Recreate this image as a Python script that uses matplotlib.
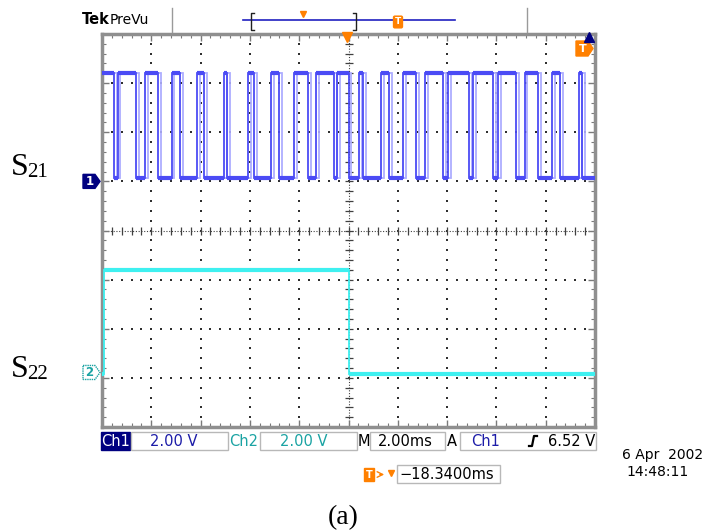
import matplotlib
matplotlib.use("Agg")
import matplotlib.pyplot as plt
from matplotlib.patches import Polygon, Rectangle
from matplotlib.transforms import blended_transform_factory

# ---------------- data ----------------
time_per_div_ms = 2.0
volts_per_div = 2.0
n_xdiv = 10
n_ydiv = 8

# Ch1: alternating edges (ms), trace starts high
ch1_edges_ms = [0.47, 0.63, 1.38, 1.74, 2.27, 2.82, 3.18, 3.87, 4.14, 4.95,
                5.07, 5.92, 6.15, 6.86, 7.20, 7.79, 8.34, 8.68, 9.41, 9.53,
                10.00, 10.41, 10.57, 11.30, 11.66, 12.21, 12.74, 13.10, 13.83, 14.04,
                14.87, 15.05, 15.86, 16.05, 16.80, 17.14, 17.69, 18.26, 18.60, 19.35,
                19.49]
ch1_start_high = True
ch1_high_v = 4.42
ch1_low_v = 0.14
ch1_offset_div = 1.0

# Ch2: one rise, one fall
ch2_edges_ms = [0.10, 10.00]
ch2_start_high = False
ch2_high_v = 4.18
ch2_low_v = -0.06
ch2_offset_div = -2.89

status_ch1_scale = "2.00 V"
status_ch2_scale = "2.00 V"
status_time_scale = "2.00ms"
status_trig_src = "Ch1"
status_trig_level = "6.52 V"
status_delay = "\u221218.3400ms"
status_date = "6 Apr  2002"
status_time = "14:48:11"
label_s21 = ("S", "21")
label_s22 = ("S", "22")
caption = "(a)"

# ---------------- helpers ----------------
def step_trace(edges, start_high, hi, lo, t_end):
    state = start_high
    t = [0.0]
    v = [hi if state else lo]
    segs = []
    seg_start = 0.0
    for e in edges:
        segs.append((seg_start, e, hi if state else lo))
        t += [e, e]
        v += [hi if state else lo, lo if state else hi]
        state = not state
        seg_start = e
    segs.append((seg_start, t_end, hi if state else lo))
    t.append(t_end)
    v.append(hi if state else lo)
    return t, v, segs

t_end = n_xdiv * time_per_div_ms

W, H = 709, 530
fig = plt.figure(figsize=(W / 100, H / 100), dpi=100)
fig.patch.set_facecolor("white")

L, R, T, B = 102, 595, 34, 427
ax = fig.add_axes([L / W, 1 - B / H, (R - L) / W, (B - T) / H])
ax.set_xlim(0, t_end)
ax.set_ylim(-n_ydiv / 2, n_ydiv / 2)
ax.set_facecolor("white")

# graticule border + ticks
for s in ax.spines.values():
    s.set_color("#8f8f8f")
    s.set_linewidth(2.5)
ax.set_xticks([i * time_per_div_ms for i in range(n_xdiv + 1)])
ax.set_yticks(list(range(-n_ydiv // 2, n_ydiv // 2 + 1)))
ax.set_xticks([i * time_per_div_ms / 5 for i in range(n_xdiv * 5 + 1)], minor=True)
ax.set_yticks([i / 5 - n_ydiv / 2 for i in range(n_ydiv * 5 + 1)], minor=True)
ax.tick_params(which="both", direction="in", top=True, right=True,
               labelbottom=False, labelleft=False, color="#7a7a7a")
ax.tick_params(which="major", length=5, width=1)
ax.tick_params(which="minor", length=3, width=0.8)

# grid dots
gx, gy = [], []
for i in range(1, n_xdiv):
    if i == n_xdiv // 2:
        continue
    for k in range(1, n_ydiv * 5):
        gx.append(i * time_per_div_ms)
        gy.append(k / 5 - n_ydiv / 2)
for j in range(1, n_ydiv):
    yv = j - n_ydiv / 2
    if yv == 0:
        continue
    for k in range(1, n_xdiv * 5):
        gx.append(k * time_per_div_ms / 5)
        gy.append(yv)
ax.scatter(gx, gy, s=1.3, marker="s", color="#303030", linewidths=0, zorder=1)

# center lines with ticks
cx = t_end / 2
ax.plot([cx, cx], [-n_ydiv / 2, n_ydiv / 2], color="#404040", lw=0.8,
        ls=(0, (1, 1.5)), zorder=1)
ax.plot([0, t_end], [0, 0], color="#404040", lw=0.8, ls=(0, (1, 1.5)), zorder=1)
ax.plot([cx] * (n_ydiv * 5 - 1), [k / 5 - n_ydiv / 2 for k in range(1, n_ydiv * 5)],
        ls="none", marker="_", ms=6, mew=0.9, color="#404040", zorder=1)
ax.plot([k * time_per_div_ms / 5 for k in range(1, n_xdiv * 5)], [0] * (n_xdiv * 5 - 1),
        ls="none", marker="|", ms=6, mew=0.9, color="#404040", zorder=1)

# traces
def draw_channel(edges, start_high, hi, lo, offset, color, shadow=None, shift=0.0):
    t, v, segs = step_trace(edges, start_high, hi, lo, t_end)
    y = [vv / volts_per_div + offset for vv in v]
    if shadow is not None:
        ax.plot([tt + shift for tt in t], y, color=shadow, lw=1.3, zorder=2,
                solid_joinstyle="miter")
    ax.plot(t, y, color=color, lw=1.3, zorder=3, solid_joinstyle="miter")
    for a, b, lev in segs:
        ax.plot([a, b], [lev / volts_per_div + offset] * 2, color=color, lw=3.0,
                zorder=3, solid_capstyle="butt")

draw_channel(ch1_edges_ms, ch1_start_high, ch1_high_v, ch1_low_v, ch1_offset_div,
             "#4b4bf5", shadow="#aeaeff", shift=0.12)
draw_channel(ch2_edges_ms, ch2_start_high, ch2_high_v, ch2_low_v, ch2_offset_div,
             "#3ef0f0")

# ---------------- overlay (pixel coords) ----------------
ov = fig.add_axes([0, 0, 1, 1], zorder=5)
ov.set_xlim(0, W)
ov.set_ylim(H, 0)
ov.axis("off")
ov.patch.set_alpha(0)

orange = "#ff8000"
navy = "#000080"
blue = "#1c1ca8"
teal = "#1aa3a3"
sans = "DejaVu Sans"

# top bar
ov.text(82, 24.5, "Tek", fontsize=10.5, fontweight="bold", family=sans, va="baseline")
ov.text(110, 24.5, "PreVu", fontsize=10, family=sans, va="baseline")
ov.plot([172, 172], [8, 32], color="#9a9a9a", lw=1)
ov.plot([527, 527], [8, 32], color="#9a9a9a", lw=1)
ov.plot([243, 455], [20, 20], color="#2020c0", lw=1.2)
ov.plot([254, 251, 251, 254], [13, 13, 30, 30], color="#202020", lw=1)
ov.plot([353, 356, 356, 353], [13, 13, 30, 30], color="#202020", lw=1)
ov.plot([303], [14], marker="v", ms=5, color=orange, ls="none")
ov.text(398, 22, "T", fontsize=6.5, color="white", fontweight="bold", ha="center",
        va="center", bbox=dict(boxstyle="round,pad=0.15", fc=orange, ec=orange))

# trigger position marker, top-right markers
ov.plot([347], [36.5], marker="v", ms=7, color=orange, ls="none")
ov.plot([588.5], [37], marker="^", ms=7, color=navy, ls="none")
ov.add_patch(Polygon([(576, 41), (588, 41), (593, 48.5), (588, 56), (576, 56)],
                     closed=True, fc=orange, ec=orange))
ov.text(582.5, 48.5, "T", fontsize=8, color="white", fontweight="bold",
        ha="center", va="center")

# channel ground markers (y from channel offsets)
bt = blended_transform_factory(ov.transData, ax.transData)
hh = 7.0 / ((B - T) / n_ydiv)
ov.add_patch(Polygon([(83, ch1_offset_div + hh), (95, ch1_offset_div + hh),
                      (100, ch1_offset_div), (95, ch1_offset_div - hh),
                      (83, ch1_offset_div - hh)], closed=True, fc=navy, ec=navy,
                     transform=bt, clip_on=False))
ov.text(89.5, ch1_offset_div, "1", transform=bt, color="white", fontsize=8.5,
        fontweight="bold", ha="center", va="center", family=sans)
ov.add_patch(Polygon([(83, ch2_offset_div + hh), (95, ch2_offset_div + hh),
                      (100, ch2_offset_div), (95, ch2_offset_div - hh),
                      (83, ch2_offset_div - hh)], closed=True, fc="white", ec=teal,
                     lw=1, ls=(0, (1, 0.6)), transform=bt, clip_on=False))
ov.text(89.5, ch2_offset_div, "2", transform=bt, color=teal, fontsize=8.5,
        fontweight="bold", ha="center", va="center", family=sans)

# status bar
yb, hb = 432, 18
yc = yb + hb / 2 + 0.5
fs = 10.5
ov.add_patch(Rectangle((101, yb), 29, hb, fc=navy, ec=navy))
ov.text(115.5, yc, "Ch1", color="white", fontsize=fs, ha="center", va="center", family=sans)
ov.add_patch(Rectangle((131, yb), 97, hb, fc="white", ec="#b8b8b8", lw=1))
ov.text(174, yc, status_ch1_scale, color=blue, fontsize=fs, ha="center", va="center", family=sans)
ov.text(244, yc, "Ch2", color=teal, fontsize=fs, ha="center", va="center", family=sans)
ov.add_patch(Rectangle((260, yb), 97, hb, fc="white", ec="#b8b8b8", lw=1))
ov.text(304, yc, status_ch2_scale, color=teal, fontsize=fs, ha="center", va="center", family=sans)
ov.text(364, yc, "M", color="black", fontsize=fs, ha="center", va="center", family=sans)
ov.add_patch(Rectangle((370, yb), 75, hb, fc="white", ec="#b8b8b8", lw=1))
ov.text(405, yc, status_time_scale, color="black", fontsize=fs, ha="center", va="center", family=sans)
ov.text(452, yc, "A", color="black", fontsize=fs, ha="center", va="center", family=sans)
ov.add_patch(Rectangle((460, yb), 136, hb, fc="white", ec="#b8b8b8", lw=1))
ov.text(486, yc, status_trig_src, color=blue, fontsize=fs, ha="center", va="center", family=sans)
ov.plot([529, 532, 534, 537], [446, 446, 436, 436], color="black", lw=1.6)
ov.text(595, yc, status_trig_level, color="black", fontsize=fs, ha="right", va="center", family=sans)

# date / time
ov.text(703, 455, status_date, fontsize=10, ha="right", va="center", family=sans)
ov.text(689, 472, status_time, fontsize=10, ha="right", va="center", family=sans)

# delay
ov.text(369, 474.5, "T", fontsize=7, color="white", fontweight="bold", ha="center",
        va="center", bbox=dict(boxstyle="square,pad=0.2", fc=orange, ec=orange))
ov.annotate("", xy=(387, 474.5), xytext=(377, 474.5),
            arrowprops=dict(arrowstyle="->", color=orange, lw=1))
ov.plot([391], [473], marker="v", ms=5, color=orange, ls="none")
ov.add_patch(Rectangle((397, 465), 103, 18, fc="white", ec="#b8b8b8", lw=1))
ov.text(399, 474.5, status_delay, fontsize=fs, ha="left", va="center", family=sans)

# S labels and caption
serif = "Liberation Serif"
ov.text(11, 175, label_s21[0], fontsize=23, family=serif, va="baseline")
ov.text(27.5, 177, label_s21[1], fontsize=15, family=serif, va="baseline")
ov.text(11, 377, label_s22[0], fontsize=23, family=serif, va="baseline")
ov.text(27.5, 379, label_s22[1], fontsize=15, family=serif, va="baseline")
ov.text(343, 524, caption, fontsize=20, family=serif, ha="center", va="baseline")

fig.savefig("out.png", dpi=100)
